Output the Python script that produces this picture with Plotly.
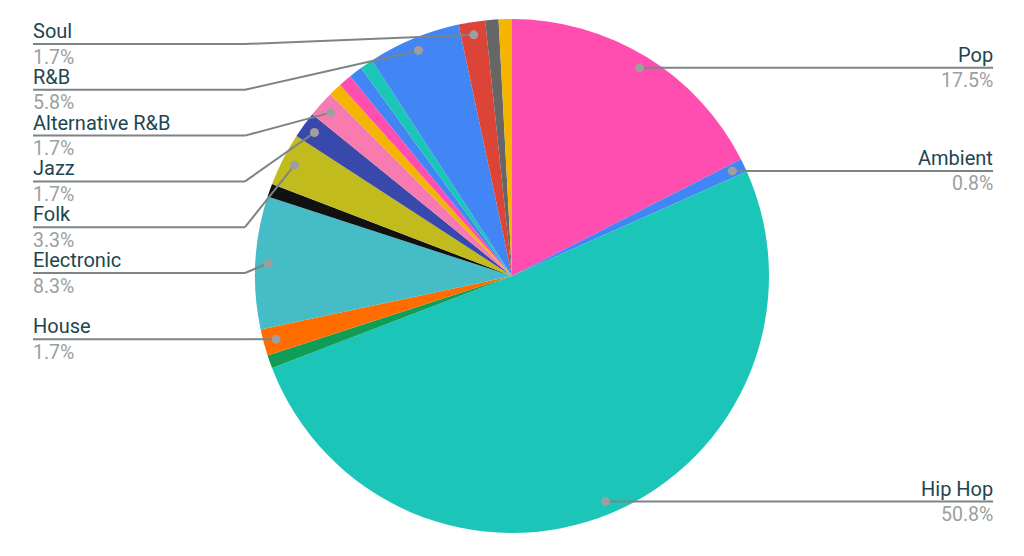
import math

import plotly.graph_objects as go

# slices clockwise from 12 o'clock, track counts (total 120)
genres = [
    "Pop", "Ambient", "Hip Hop", "Reggae", "House", "Electronic", "Metal",
    "Folk", "Jazz", "Alternative R&B", "Funk", "Dance", "Indie", "Trap",
    "R&B", "Soul", "Rock", "Gospel",
]
tracks = [21, 1, 61, 1, 2, 10, 1, 4, 2, 2, 1, 1, 1, 1, 7, 2, 1, 1]
colors = [
    "#ff4db0", "#4285f4", "#1bc5b8", "#0f9d58", "#ff6d00", "#46bdc6", "#111111",
    "#c2bb1e", "#3949ab", "#f77bb0", "#f4b400", "#ff4db0", "#4285f4", "#1bc5b8",
    "#4285f4", "#db4437", "#666666", "#f4b400",
]
# slices that get a callout label
labelled = ["Pop", "Ambient", "Hip Hop", "House", "Electronic", "Folk", "Jazz",
            "Alternative R&B", "R&B", "Soul"]

W, H = 1024, 556
OFF = 8  # page body margin shifts the plot div
CX, CY, R = 512, 276, 257
NAME_COLOR = "#1d4650"
PCT_COLOR = "#9aa0a0"
LINE_COLOR = "#7c8484"


def paper(x, y):
    # screen pixel -> paper coords
    return (x - OFF) / W, 1 - (y - OFF) / H


fig = go.Figure(
    go.Pie(
        labels=genres,
        values=tracks,
        marker=dict(colors=colors, line=dict(width=0)),
        sort=False,
        direction="clockwise",
        rotation=0,
        textinfo="none",
        domain=dict(x=[paper(CX - R, 0)[0], paper(CX + R, 0)[0]],
                    y=[paper(0, CY + R)[1], paper(0, CY - R)[1]]),
    )
)

total = sum(tracks)
callouts = []
cum = 0
for name, v in zip(genres, tracks):
    if name in labelled:
        theta = 2 * math.pi * (cum + v / 2) / total
        dx = CX + 0.95 * R * math.sin(theta)
        dy = CY - 0.95 * R * math.cos(theta)
        callouts.append((name, v, dx, dy))
    cum += v

shapes = []
annotations = []
for side in ("left", "right"):
    items = sorted([c for c in callouts if (c[2] < CX) == (side == "left")],
                   key=lambda c: c[3])
    prev = None
    for name, v, dx, dy in items:
        ly = max(dy, 44) if prev is None else max(dy, prev + 45.8)
        prev = ly
        if side == "left":
            elbow, end, anchor = 245, 33, "left"
        else:
            elbow, end, anchor = max(dx, W - 245), 993, "right"
        x0, y0 = paper(dx, dy)
        x1, y1 = paper(elbow, ly)
        x2, y2 = paper(end, ly)
        line = dict(color=LINE_COLOR, width=2)
        shapes.append(dict(type="line", xref="paper", yref="paper",
                           x0=x0, y0=y0, x1=x1, y1=y1, line=line))
        shapes.append(dict(type="line", xref="paper", yref="paper",
                           x0=x1, y0=y1, x1=x2, y1=y2, line=line))
        r = 4.5
        cx0, cy0 = paper(dx - r, dy - r)
        cx1, cy1 = paper(dx + r, dy + r)
        shapes.append(dict(type="circle", xref="paper", yref="paper",
                           x0=cx0, y0=cy0, x1=cx1, y1=cy1,
                           fillcolor="#9e9e9e", line=dict(width=0)))
        tx, ty = paper(end, ly - 13)
        annotations.append(dict(x=tx, y=ty, xref="paper", yref="paper",
                                text=name, showarrow=False, xanchor=anchor,
                                yanchor="middle", xshift=-2 if anchor == "left" else 2,
                                font=dict(size=20, color=NAME_COLOR)))
        pct = f"{100 * v / total:.1f}%"
        tx, ty = paper(end, ly + 13)
        annotations.append(dict(x=tx, y=ty, xref="paper", yref="paper",
                                text=pct, showarrow=False, xanchor=anchor,
                                yanchor="middle", xshift=-2 if anchor == "left" else 2,
                                font=dict(size=19.5, color=PCT_COLOR)))

fig.update_layout(
    width=W,
    height=H,
    margin=dict(l=0, r=0, t=0, b=0),
    paper_bgcolor="white",
    plot_bgcolor="white",
    showlegend=False,
    font=dict(family="Roboto, Arial, sans-serif"),
    shapes=shapes,
    annotations=annotations,
)

fig.write_html("out.html")
